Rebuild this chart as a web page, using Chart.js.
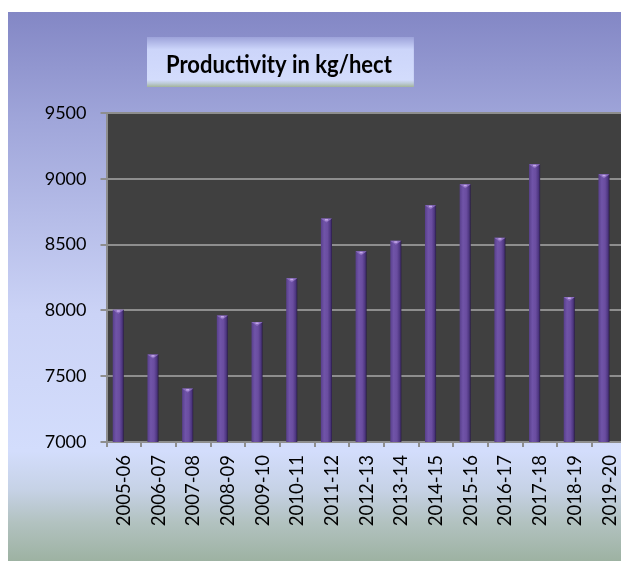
<!DOCTYPE html>
<html>
<head>
<meta charset="utf-8">
<title>Productivity in kg/hect</title>
<script src="https://cdn.jsdelivr.net/npm/chart.js@4.4.1/dist/chart.umd.min.js"></script>
<style>
  html, body { margin: 0; padding: 0; background: #fff; overflow: hidden; }
  canvas { display: block; }
</style>
</head>
<body>
<canvas id="productivityChart" width="640" height="561"></canvas>
<script>
var chartTitle = "Productivity in kg/hect";
var years = ["2005-06", "2006-07", "2007-08", "2008-09", "2009-10", "2010-11", "2011-12", "2012-13",
    "2013-14", "2014-15", "2015-16", "2016-17", "2017-18", "2018-19", "2019-20"];
var productivity = [8005, 7664, 7406, 7961, 7912, 8244, 8698, 8449, 8529, 8799, 8958, 8553, 9110, 8102, 9034];
var yTicks = [7000, 7500, 8000, 8500, 9000, 9500];

var catPercent = 0.64;
var gridGray = '#8e8e8e';

// cylinder look: dark left edge, light middle, darker right side
function barFill(ctx) {
    var chart = ctx.chart;
    var xs = chart.scales.x;
    if (!xs || ctx.type !== 'data' || !(xs.width > 0)) return '#6a4c9e';
    var catW = xs.width / years.length;
    var w = catW * catPercent / 2;
    var cx = xs.getPixelForValue(ctx.dataIndex) - w / 2;
    if (!isFinite(cx)) return '#6a4c9e';
    var g = chart.ctx.createLinearGradient(cx - w / 2, 0, cx + w / 2, 0);
    g.addColorStop(0, '#583f8c');
    g.addColorStop(0.3, '#7054a8');
    g.addColorStop(0.6, '#6a4da0');
    g.addColorStop(0.85, '#4d3680');
    g.addColorStop(1, '#2a1d44');
    return g;
}

var backdrop = {
    id: 'backdrop',
    beforeDraw: function (chart) {
        var c = chart.ctx, area = chart.chartArea;
        c.save();
        c.fillStyle = '#ffffff';
        c.fillRect(0, 0, chart.width, chart.height);

        var g = c.createLinearGradient(0, 12, 0, chart.height);
        g.addColorStop(0, '#8387c5');
        g.addColorStop(0.2, '#a0a6da');
        g.addColorStop(0.55, '#cbd3f6');
        g.addColorStop(0.8, '#d3ddfc');
        g.addColorStop(0.87, '#c6d2e6');
        g.addColorStop(0.93, '#b2c2c0');
        g.addColorStop(1, '#9db2a2');
        c.fillStyle = g;
        c.fillRect(8, 12, chart.width - 8, chart.height - 12);

        c.fillStyle = '#404040';
        c.fillRect(area.left, area.top, area.right - area.left, area.bottom - area.top);

        // title box
        c.font = 'bold 22px Lato';
        var tw = c.measureText(chartTitle).width;
        var bx = 147, by = 37, bw = tw + 19 + 22, bh = 50;
        var tg = c.createLinearGradient(0, by, 0, by + bh);
        tg.addColorStop(0, '#9da3da');
        tg.addColorStop(0.25, '#ccd5fa');
        tg.addColorStop(0.86, '#d3dcfc');
        tg.addColorStop(0.93, '#bccad4');
        tg.addColorStop(1, '#a3b49b');
        c.fillStyle = tg;
        c.fillRect(bx, by, bw, bh);
        c.fillStyle = '#000000';
        c.textBaseline = 'alphabetic';
        c.translate(bx + 19, 72.5);
        c.scale(1, 1.12);
        c.fillText(chartTitle, 0, 0);
        c.restore();
    },
    afterDatasetsDraw: function (chart) {
        var c = chart.ctx;
        var meta = chart.getDatasetMeta(0);
        c.save();
        meta.data.forEach(function (bar) {
            var w = bar.width, x = bar.x, y = bar.y;
            c.fillStyle = '#8d6fc0';
            c.beginPath();
            c.moveTo(x - w / 2, y);
            c.lineTo(x + w / 2, y);
            c.lineTo(x, y + 4);
            c.closePath();
            c.fill();
            c.fillStyle = '#c4a8e8';
            c.fillRect(x - 1.5, y + 0.5, 3, 1.5);
        });
        c.restore();
    }
};

var chart = new Chart(document.getElementById('productivityChart'), {
    type: 'bar',
    data: {
        labels: years,
        datasets: [
            {
                label: 'Productivity',
                data: productivity,
                backgroundColor: barFill,
                borderWidth: 0,
                categoryPercentage: catPercent,
                barPercentage: 1
            },
            {
                // empty depth slot, keeps bars a little left of the category centre
                label: '',
                data: years.map(function () { return null; }),
                categoryPercentage: catPercent,
                barPercentage: 1
            }
        ]
    },
    options: {
        responsive: false,
        animation: false,
        layout: { padding: { left: 6.5, top: 113, right: 8, bottom: 0 } },
        plugins: {
            legend: { display: false },
            title: { display: false },
            tooltip: { enabled: false }
        },
        scales: {
            x: {
                grid: {
                    offset: true,
                    drawOnChartArea: false,
                    drawTicks: true,
                    tickLength: 5,
                    color: gridGray,
                    lineWidth: 2
                },
                border: { display: true, color: gridGray, width: 2 },
                ticks: {
                    minRotation: 90,
                    maxRotation: 90,
                    autoSkip: false,
                    padding: 8,
                    color: '#000000',
                    font: { family: 'Lato', size: 18.5 }
                },
                afterFit: function (scale) { scale.height = 119; }
            },
            y: {
                min: yTicks[0],
                max: yTicks[yTicks.length - 1],
                grid: {
                    color: gridGray,
                    lineWidth: 2,
                    tickLength: 6
                },
                border: { display: true, color: gridGray, width: 2 },
                ticks: {
                    stepSize: yTicks[1] - yTicks[0],
                    padding: 14,
                    color: '#000000',
                    font: { family: 'Lato', size: 18 },
                    callback: function (v) { return String(v); }
                },
                afterFit: function (scale) { scale.width = 100; }
            }
        }
    },
    plugins: [backdrop]
});
</script>
</body>
</html>
